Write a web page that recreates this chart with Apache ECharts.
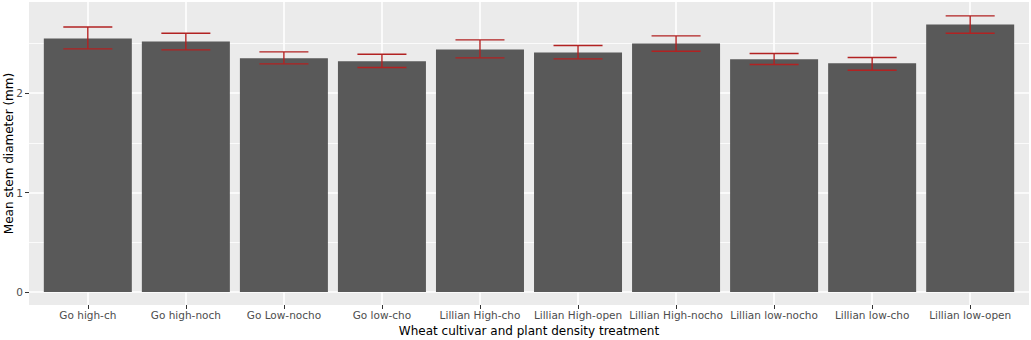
<!DOCTYPE html>
<html>
<head>
<meta charset="utf-8">
<script src="https://cdn.jsdelivr.net/npm/echarts@6/dist/echarts.min.js"></script>
<style>
  html, body { margin: 0; padding: 0; background: #ffffff; }
  #chart { width: 1031px; height: 340px; }
</style>
</head>
<body>
<div id="chart"></div>
<script>
// ---- data ----
const categories = ['Go high-ch', 'Go high-noch', 'Go Low-nocho', 'Go low-cho', 'Lillian High-cho',
  'Lillian High-open', 'Lillian High-nocho', 'Lillian low-nocho', 'Lillian low-cho', 'Lillian low-open'];
const meanDiameter = [2.55, 2.52, 2.35, 2.32, 2.44, 2.41, 2.50, 2.34, 2.30, 2.69];
const errLower = [2.445, 2.435, 2.295, 2.258, 2.355, 2.345, 2.422, 2.288, 2.231, 2.603];
const errUpper = [2.666, 2.603, 2.415, 2.392, 2.536, 2.479, 2.576, 2.399, 2.358, 2.777];
const yTickValues = [0, 1, 2];
const xTickValues = categories.map((c, i) => i);
const xTitle = 'Wheat cultivar and plant density treatment';
const yTitle = 'Mean stem diameter (mm)';

const FONT = 'DejaVu Sans';
const chart = echarts.init(document.getElementById('chart'), null, { renderer: 'svg' });

const barData = meanDiameter.map((v, i) => [i, v]);
const errData = categories.map((c, i) => [i, errLower[i], errUpper[i]]);

chart.setOption({
  animation: false,
  backgroundColor: '#ffffff',
  grid: {
    left: 29, right: 2, top: 2, bottom: 35,
    show: true, backgroundColor: '#EBEBEB', borderWidth: 0
  },
  xAxis: {
    type: 'value',
    min: -0.6, max: 9.6,
    splitNumber: 10,
    axisLine: { show: false, onZero: false },
    axisTick: { show: true, length: 4, lineStyle: { color: '#333333', width: 1 }, customValues: xTickValues },
    axisLabel: {
      customValues: xTickValues,
      formatter: v => categories[Math.round(v)] || '',
      color: '#4D4D4D', fontFamily: FONT, fontSize: 10.5, margin: 4
    },
    splitLine: { show: true, lineStyle: { color: '#ffffff', width: 1.6 } }
  },
  yAxis: {
    type: 'value',
    min: -0.131, max: 2.917,
    splitNumber: 3,
    axisLine: { show: false, onZero: false },
    axisTick: { show: true, length: 4, lineStyle: { color: '#333333', width: 1 }, customValues: yTickValues },
    axisLabel: {
      customValues: yTickValues,
      color: '#4D4D4D', fontFamily: FONT, fontSize: 10.5, margin: 6
    },
    minorTick: { show: false, splitNumber: 2 },
    splitLine: { show: true, lineStyle: { color: '#ffffff', width: 1.6 } },
    minorSplitLine: { show: true, lineStyle: { color: '#ffffff', width: 0.8 } }
  },
  series: [
    {
      type: 'bar',
      data: barData,
      barWidth: 88,
      itemStyle: { color: '#595959' },
      z: 2
    },
    {
      type: 'custom',
      data: errData,
      z: 3,
      renderItem: function (params, api) {
        const x = api.value(0);
        const lo = api.coord([x, api.value(1)]);
        const hi = api.coord([x, api.value(2)]);
        const half = api.size([0.5, 0])[0] / 2;
        const style = { stroke: '#B22222', lineWidth: 1.4 };
        return {
          type: 'group',
          children: [
            { type: 'line', shape: { x1: lo[0], y1: lo[1], x2: hi[0], y2: hi[1] }, style },
            { type: 'line', shape: { x1: hi[0] - half, y1: hi[1], x2: hi[0] + half, y2: hi[1] }, style },
            { type: 'line', shape: { x1: lo[0] - half, y1: lo[1], x2: lo[0] + half, y2: lo[1] }, style }
          ]
        };
      }
    }
  ],
  graphic: [
    {
      type: 'text', x: 529, y: 331,
      style: { text: xTitle, fill: '#000000', font: '12px "DejaVu Sans"', textAlign: 'center', textVerticalAlign: 'middle' }
    },
    {
      type: 'text', x: 9, y: 153.5, rotation: Math.PI / 2,
      style: { text: yTitle, fill: '#000000', font: '12px "DejaVu Sans"', textAlign: 'center', textVerticalAlign: 'middle' }
    }
  ]
});
</script>
</body>
</html>
